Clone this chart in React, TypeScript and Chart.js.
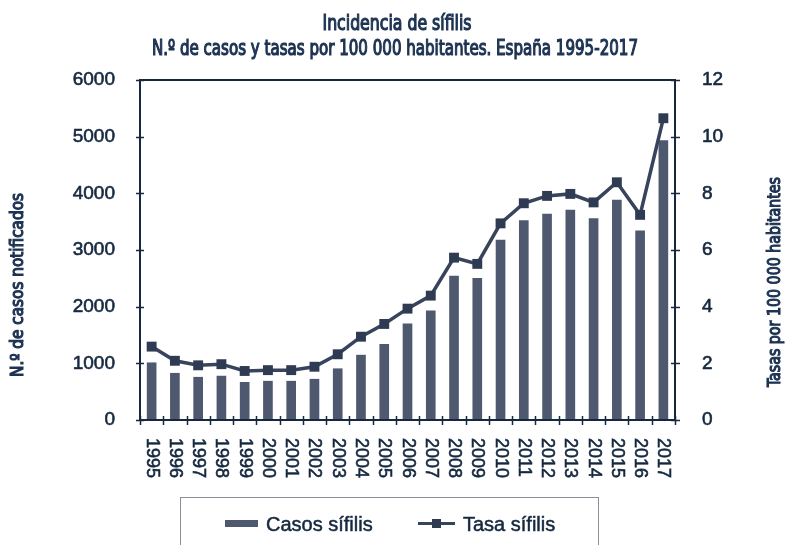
import React, { useEffect, useRef } from "react";
import { Chart, registerables } from "chart.js";

Chart.register(...registerables);

const titleLines = ["Incidencia de sífilis", "N.º de casos y tasas por 100 000 habitantes. España 1995-2017"];
const leftTitle = "N.º de casos notificados";
const rightTitle = "Tasas por 100 000 habitantes";
const years = ["1995","1996","1997","1998","1999","2000","2001","2002","2003","2004","2005","2006","2007","2008","2009","2010","2011","2012","2013","2014","2015","2016","2017"];
const casos = [1010, 825, 755, 775, 665, 685, 685, 720, 905, 1145, 1335, 1695, 1925, 2540, 2500, 3175, 3520, 3635, 3705, 3555, 3880, 3340, 4930];
const tasas = [2.59, 2.09, 1.93, 1.97, 1.73, 1.76, 1.76, 1.88, 2.32, 2.94, 3.39, 3.93, 4.39, 5.73, 5.51, 6.94, 7.65, 7.91, 7.98, 7.68, 8.39, 7.24, 10.65];
const seriesNames = ["Casos sífilis", "Tasa sífilis"];

const NAVY = "#15283f";
const BAR = "#4e596f";
const LINE = "#37445b";
const TITLE_FONT = "'Liberation Sans Narrow', 'DejaVu Sans Condensed', 'Open Sans', sans-serif";
const TICK_FONT = "'Liberation Sans', Arial, sans-serif";

function fitText(ctx: CanvasRenderingContext2D, text: string, x: number, y: number, target: number, stroke = 0) {
  const w = ctx.measureText(text).width;
  const s = w > 0 ? target / w : 1;
  ctx.save();
  ctx.translate(x, y);
  ctx.scale(s, 1);
  ctx.textAlign = "center";
  ctx.fillText(text, 0, 0);
  if (stroke > 0) {
    ctx.lineWidth = stroke;
    ctx.strokeStyle = ctx.fillStyle as string;
    ctx.strokeText(text, 0, 0);
  }
  ctx.restore();
}

function heavyText(ctx: CanvasRenderingContext2D, text: string, x: number, y: number) {
  ctx.fillText(text, x, y);
  ctx.strokeText(text, x, y);
}

const decor = {
  id: "decor",
  afterDraw(chart: any) {
    const ctx: CanvasRenderingContext2D = chart.ctx;
    const a = chart.chartArea;
    const x = chart.scales.x;
    const y = chart.scales.y;
    const y1 = chart.scales.y1;
    ctx.save();
    // box
    ctx.strokeStyle = NAVY;
    ctx.lineWidth = 2;
    ctx.strokeRect(a.left, a.top, a.right - a.left, a.bottom - a.top);
    ctx.lineWidth = 1.5;
    ctx.beginPath();
    y.ticks.forEach((t: any) => {
      const py = Math.round(y.getPixelForValue(t.value)) + 0.5;
      ctx.moveTo(a.left - 4, py);
      ctx.lineTo(a.left + 4, py);
    });
    y1.ticks.forEach((t: any) => {
      const py = Math.round(y1.getPixelForValue(t.value)) + 0.5;
      ctx.moveTo(a.right - 4, py);
      ctx.lineTo(a.right + 5, py);
    });
    const n = years.length;
    for (let i = 0; i <= n; i++) {
      const px = i < n ? x.getPixelForTick(i) - (x.getPixelForTick(1) - x.getPixelForTick(0)) / 2 : a.right;
      const rx = Math.round(px) + 0.5;
      ctx.moveTo(rx, a.bottom - 4);
      ctx.lineTo(rx, a.bottom + 5);
    }
    ctx.stroke();

    // x labels rotated clockwise
    ctx.fillStyle = NAVY;
    ctx.strokeStyle = NAVY;
    ctx.lineWidth = 0.6;
    ctx.font = `18px ${TICK_FONT}`;
    ctx.textAlign = "left";
    ctx.textBaseline = "middle";
    years.forEach((lab, i) => {
      const px = x.getPixelForTick(i);
      ctx.save();
      ctx.translate(px, a.bottom + 18);
      ctx.rotate(Math.PI / 2);
      heavyText(ctx, lab, 0, 0);
      ctx.restore();
    });

    // titles
    ctx.fillStyle = "#1d3352";
    ctx.textBaseline = "alphabetic";
    ctx.font = `22px ${TITLE_FONT}`;
    fitText(ctx, titleLines[0], 397, 29.5, 149, 1.2);
    ctx.font = `21px ${TITLE_FONT}`;
    fitText(ctx, titleLines[1], 395, 54.5, 486, 1.2);

    ctx.textBaseline = "middle";
    ctx.save();
    ctx.translate(19, 285);
    ctx.rotate(-Math.PI / 2);
    ctx.font = `17px ${TITLE_FONT}`;
    fitText(ctx, leftTitle, 0, 0, 184, 1.1);
    ctx.restore();

    ctx.save();
    ctx.translate(776, 282);
    ctx.rotate(-Math.PI / 2);
    ctx.font = `17px ${TITLE_FONT}`;
    fitText(ctx, rightTitle, 0, 0, 210, 1.1);
    ctx.restore();

    // legend
    ctx.strokeStyle = "#8a8f99";
    ctx.lineWidth = 1;
    ctx.strokeRect(180.5, 497.5, 418, 80);
    ctx.fillStyle = BAR;
    ctx.fillRect(225, 520, 33, 7);
    ctx.fillStyle = NAVY;
    ctx.strokeStyle = NAVY;
    ctx.lineWidth = 0.5;
    ctx.font = `20px ${TICK_FONT}`;
    ctx.textAlign = "left";
    ctx.textBaseline = "middle";
    heavyText(ctx, seriesNames[0], 266, 525);
    ctx.strokeStyle = LINE;
    ctx.lineWidth = 3;
    ctx.beginPath();
    ctx.moveTo(418, 523.5);
    ctx.lineTo(455, 523.5);
    ctx.stroke();
    ctx.fillStyle = "#2f3b52";
    ctx.fillRect(432, 519, 9, 9);
    ctx.fillStyle = NAVY;
    ctx.strokeStyle = NAVY;
    ctx.lineWidth = 0.5;
    heavyText(ctx, seriesNames[1], 463, 525);
    ctx.restore();
  },
};

export default function App() {
  const ref = useRef<HTMLCanvasElement>(null);
  useEffect(() => {
    if (!ref.current) return;
    const chart = new Chart(ref.current, {
      type: "bar",
      data: {
        labels: years,
        datasets: [
          {
            type: "line",
            label: seriesNames[1],
            data: tasas,
            yAxisID: "y1",
            borderColor: LINE,
            borderWidth: 3.5,
            backgroundColor: "#2f3b52",
            pointStyle: "rect",
            pointRadius: 7,
            pointBorderWidth: 0,
            pointBackgroundColor: "#2f3b52",
            order: 1,
          } as any,
          {
            type: "bar",
            label: seriesNames[0],
            data: casos,
            yAxisID: "y",
            backgroundColor: BAR,
            barThickness: 9,
            order: 2,
          },
        ],
      },
      options: {
        animation: false,
        responsive: false,
        maintainAspectRatio: false,
        layout: { padding: { top: 80, left: 0, right: 0, bottom: 0 } },
        plugins: { legend: { display: false }, tooltip: { enabled: false }, title: { display: false } },
        scales: {
          x: {
            offset: true,
            grid: { display: false },
            border: { display: false },
            ticks: { display: false },
            afterFit: (s: any) => { s.height = 125; },
          },
          y: {
            position: "left",
            min: 0,
            max: 6000,
            ticks: {
              stepSize: 1000,
              color: NAVY,
              font: { family: TICK_FONT, size: 19 },
              padding: 17,
              textStrokeColor: NAVY,
              textStrokeWidth: 0.6,
              callback: (v: any) => String(v),
            },
            grid: { display: false },
            border: { display: false },
            afterFit: (s: any) => { s.width = 140; },
          },
          y1: {
            position: "right",
            min: 0,
            max: 12,
            ticks: {
              stepSize: 2,
              color: NAVY,
              font: { family: TICK_FONT, size: 19 },
              padding: 19,
              textStrokeColor: NAVY,
              textStrokeWidth: 0.6,
              callback: (v: any) => String(v),
            },
            grid: { display: false },
            border: { display: false },
            afterFit: (s: any) => { s.width = 111; },
          },
        },
      },
      plugins: [decor],
    });
    return () => chart.destroy();
  }, []);
  return (
    <div style={{ position: "fixed", left: 0, top: 0, width: 786, height: 545, background: "#fff" }}>
      <canvas ref={ref} width={786} height={545} style={{ display: "block" }} />
    </div>
  );
}
